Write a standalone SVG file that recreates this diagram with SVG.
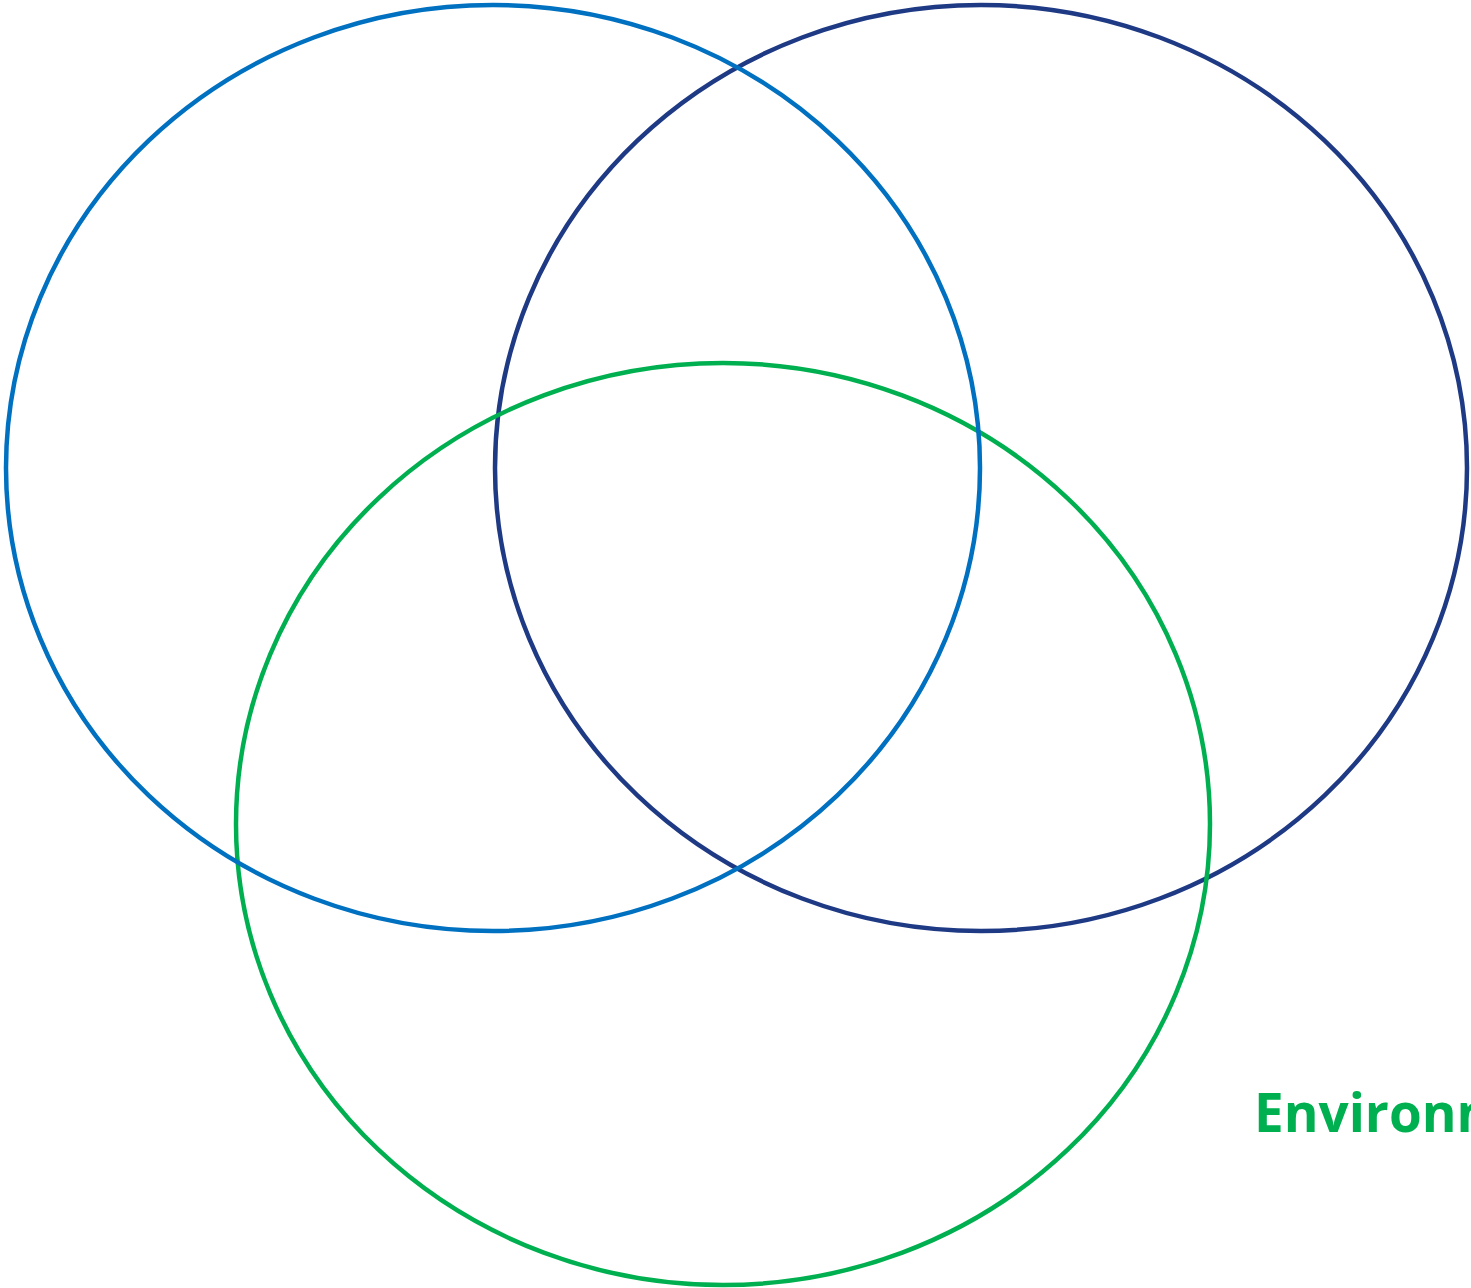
<svg xmlns="http://www.w3.org/2000/svg" width="1471" height="1288" viewBox="0 0 1471 1288">
<style>
.c{fill:none;stroke-width:4.5}
.lbl{font-family:"Open Sans","Liberation Sans",sans-serif;font-weight:bold;font-size:53px;fill:#00B050}
</style>
<rect width="1471" height="1288" fill="#fff"/>
<g id="navy-circle"><ellipse class="c" cx="981" cy="468" rx="486" ry="463" stroke="#1F3A85"/></g>
<g id="green-circle"><ellipse class="c" cx="723" cy="824" rx="487" ry="461" stroke="#00B050"/></g>
<g id="blue-circle"><ellipse class="c" cx="493" cy="468" rx="487" ry="463" stroke="#0070C0"/></g>
<g id="label"><text class="lbl" x="1254" y="1132">Environnement</text></g>
<g id="connectors"></g>
</svg>
